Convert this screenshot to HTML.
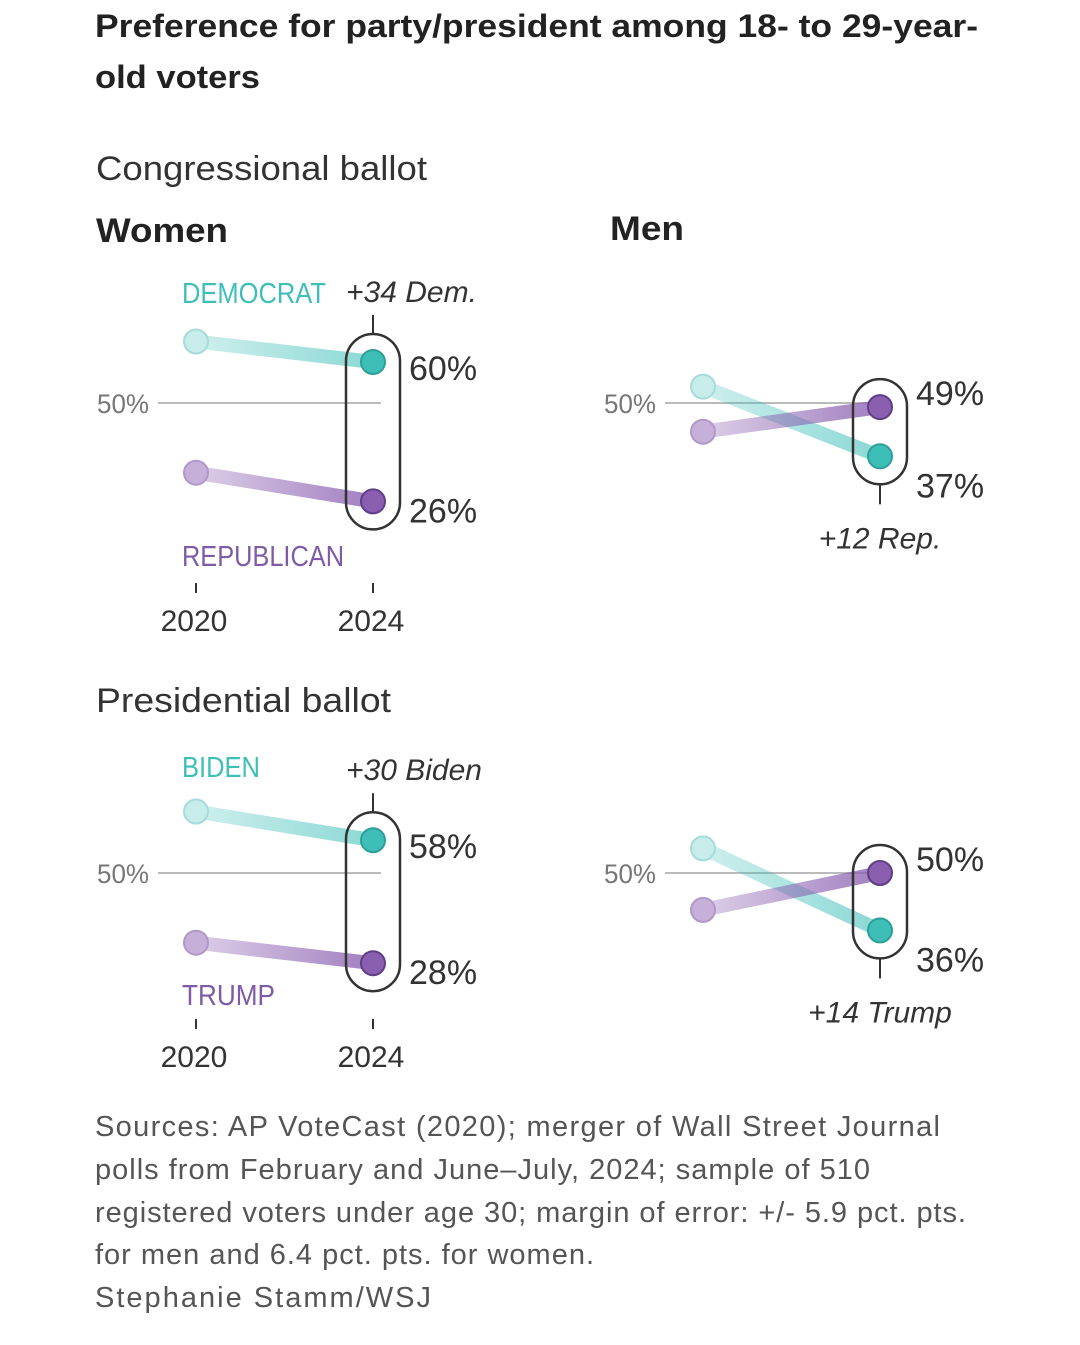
<!DOCTYPE html>
<html><head><meta charset="utf-8"><style>
body{margin:0;background:#fff;width:1080px;height:1345px;overflow:hidden;font-family:"Liberation Sans",sans-serif}
svg{display:block}
</style></head><body>
<svg width="1080" height="1345" id="c">
<text x="95" y="37" font-size="32" font-weight="bold" fill="#222" textLength="883" lengthAdjust="spacingAndGlyphs">Preference for party/president among 18- to 29-year-</text>
<text x="95" y="88" font-size="32" font-weight="bold" fill="#222" textLength="165" lengthAdjust="spacingAndGlyphs">old voters</text>
<text x="96" y="180" font-size="34" fill="#333" textLength="331" lengthAdjust="spacingAndGlyphs">Congressional ballot</text>
<text x="96" y="242" font-size="34" font-weight="bold" fill="#222" textLength="132" lengthAdjust="spacingAndGlyphs">Women</text>
<text x="610" y="240" font-size="34" font-weight="bold" fill="#222" textLength="74" lengthAdjust="spacingAndGlyphs">Men</text>
<text x="96" y="712" font-size="34" fill="#333" textLength="295" lengthAdjust="spacingAndGlyphs">Presidential ballot</text>
<g font-size="29" fill="#555" lengthAdjust="spacingAndGlyphs">
<text x="95" y="1136" textLength="845">Sources: AP VoteCast (2020); merger of Wall Street Journal</text>
<text x="95" y="1179" textLength="775">polls from February and June–July, 2024; sample of 510</text>
<text x="95" y="1222" textLength="871">registered voters under age 30; margin of error: +/- 5.9 pct. pts.</text>
<text x="95" y="1264" textLength="499">for men and 6.4 pct. pts. for women.</text>
<text x="95" y="1307" textLength="336">Stephanie Stamm/WSJ</text>
</g>
<g id="plots"></g>
</svg>
<script>
const panelNames=["women-congress","men-congress","women-president","men-president"];
const blue2020=[65,54,65,56];
const blue2024=[60,37,58,36];
const red2020=[33,43,33,41];
const red2024=[26,49,28,50];
const blueLabels=["DEMOCRAT","","BIDEN",""];
const redLabels=["REPUBLICAN","","TRUMP",""];
const marginLabels=["+34 Dem.","+12 Rep.","+30 Biden","+14 Trump"];
const px=[196,703,196,703], midY=[403,403,873,873];
const NS="http://www.w3.org/2000/svg";
const g=document.getElementById('plots');
const defs=document.createElementNS(NS,'defs');g.appendChild(defs);
defs.innerHTML='<linearGradient id="gt" x1="0" x2="1"><stop offset="0" stop-color="#3dbfb8" stop-opacity="0.25"/><stop offset="1" stop-color="#3dbfb8" stop-opacity="0.6"/></linearGradient><linearGradient id="gp" x1="0" x2="1"><stop offset="0" stop-color="#8a5fb0" stop-opacity="0.3"/><stop offset="1" stop-color="#8a5fb0" stop-opacity="0.8"/></linearGradient>';
function el(t,a,txt){const e=document.createElementNS(NS,t);for(const k in a)e.setAttribute(k,a[k]);if(txt!==undefined)e.textContent=txt;g.appendChild(e);return e;}
for(let i=0;i<4;i++){
  const x0=px[i],x1=x0+177,m=midY[i];
  const y=v=>m-(v-50)*4.1;
  const gl=el('line',{x1:x0-38,x2:x1+8,y1:m,y2:m,stroke:'#bbb','stroke-width':2});
  
  const t50=el('text',{x:x0-99,y:m+10,'font-size':27,fill:'#777',textLength:52,lengthAdjust:'spacingAndGlyphs'},'50%');
  
  const series=[[blue2020[i],blue2024[i],'url(#gt)','#c7ecea','#a6dcd9','#3dbfb8','#2e9e98','blue'],[red2020[i],red2024[i],'url(#gp)','#c6afd8','#b098c8','#8a5fb0','#5e3f86','red']];
  for(const s of series){
    const y0=y(s[0]),y1=y(s[1]);
    const ln=el('line',{x1:x0,y1:y0,x2:x1,y2:y1+0.01,stroke:s[2],'stroke-width':14});
    
    const c0=el('circle',{cx:x0,cy:y0,r:12,fill:s[3],stroke:s[4],'stroke-width':2});
    
    const c1=el('circle',{cx:x1,cy:y1,r:12,fill:s[5],stroke:s[6],'stroke-width':2});
    
  }
  const yb=y(blue2024[i]),yr=y(red2024[i]);
  const top=Math.min(yb,yr)-28,bot=Math.max(yb,yr)+28;
  const pill=el('rect',{x:x1-27,y:top,width:54,height:bot-top,rx:27,fill:'none',stroke:'#333','stroke-width':2.5});
  
  const upper=i%2===0;
  const tk=el('line',{x1:x1,x2:x1,y1:upper?top-19:bot,y2:upper?top:bot+20,stroke:'#333','stroke-width':2});
  
  const ml=upper?el('text',{x:x1-27,y:top-32,'font-size':30,'font-style':'italic',fill:'#333'},marginLabels[i]):el('text',{x:x1,y:bot+64,'font-size':30,'font-style':'italic',fill:'#333','text-anchor':'middle'},marginLabels[i]);
  
  const hi=Math.max(blue2024[i],red2024[i]),lo=Math.min(blue2024[i],red2024[i]);
  const close=Math.abs(yb-yr)<90;
  const hy=close?top+26:y(hi)+18, ly=close?bot+13:y(lo)+21;
  const vh=el('text',{x:x1+36,y:hy,'font-size':34,fill:'#333'},hi+'%');
  
  const vl=el('text',{x:x1+36,y:ly,'font-size':34,fill:'#333'},lo+'%');
  
  if(blueLabels[i]){
    const bl=el('text',{x:x0-14,y:i==0?303:777,'font-size':29,fill:'#3dbfb8',textLength:i==0?144:78,lengthAdjust:'spacingAndGlyphs'},blueLabels[i]);
    
    const rl=el('text',{x:x0-14,y:i==0?566:1005,'font-size':29,fill:'#7e5aa8',textLength:i==0?162:93,lengthAdjust:'spacingAndGlyphs'},redLabels[i]);
    
    const ay=i==0?583:1019;
    for(const [xx,lab] of [[x0,'2020'],[x1,'2024']]){
      const t=el('line',{x1:xx,x2:xx,y1:ay,y2:ay+10,stroke:'#333','stroke-width':2});
      
      const tl=el('text',{x:xx-2,y:ay+48,'font-size':30,fill:'#333','text-anchor':'middle'},lab);
      
    }
  }
}
</script>
</body></html>
